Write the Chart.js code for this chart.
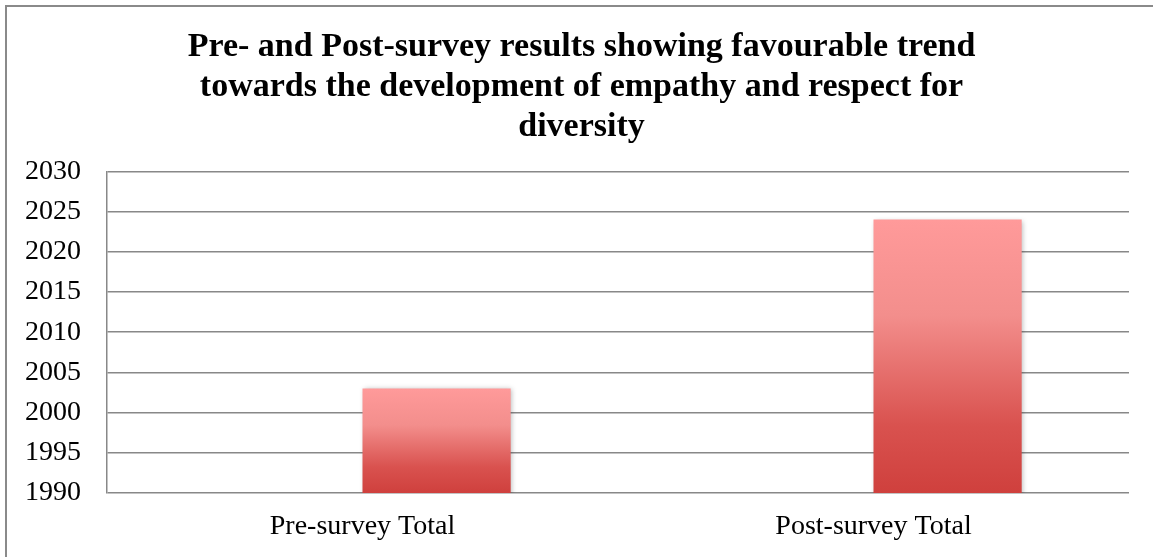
<!DOCTYPE html>
<html lang="en">
<head>
    <meta charset="UTF-8">
    <title>Pre- and Post-survey results</title>
    <script src="https://cdn.jsdelivr.net/npm/chart.js"></script>
    <style>
        html, body {
            margin: 0;
            padding: 0;
            background: #fff;
            overflow: hidden;
        }

        .chart-wrap {
            position: absolute;
            left: 0;
            top: 0;
            width: 1153px;
            height: 557px;
        }

        .frame {
            position: absolute;
            left: 5px;
            top: 5px;
            right: 0;
            bottom: 0;
            border-left: 2px solid #8a8a8a;
            border-top: 2px solid #8a8a8a;
            pointer-events: none;
        }
    </style>
</head>
<body>
    <div class="chart-wrap">
        <canvas id="surveyChart" width="1153" height="557"></canvas>
    </div>
    <div class="frame"></div>

    <script>
        // chart data
        const categories = ['Pre-survey Total', 'Post-survey Total'];
        const blankSeries = [null, null];       // empty first series in the original sheet
        const totals = [2003, 2024];
        const yTicks = [1990, 1995, 2000, 2005, 2010, 2015, 2020, 2025, 2030];

        const titleLines = [
            'Pre- and Post-survey results showing favourable trend',
            'towards the development of empathy and respect for',
            'diversity'
        ];

        const serif = "'Liberation Serif', 'Times New Roman', serif";
        const gridGrey = '#888888';

        // vertical gradient per bar, light pink at the top to red at the base
        function barFill(ctx) {
            const chart = ctx.chart;
            if (!chart.chartArea || ctx.raw == null) return '#e56b69';
            const y = chart.scales.y;
            const top = y.getPixelForValue(ctx.raw);
            const bottom = y.getPixelForValue(y.min);
            const g = chart.ctx.createLinearGradient(0, top, 0, bottom);
            g.addColorStop(0, '#ff9a9a');
            g.addColorStop(0.35, '#f38e8c');
            g.addColorStop(0.75, '#d9524f');
            g.addColorStop(1, '#cf403d');
            return g;
        }

        // soft drop shadow under the bars
        const barShadow = {
            id: 'barShadow',
            beforeDatasetDraw(chart) {
                const c = chart.ctx;
                c.save();
                c.shadowColor = 'rgba(0,0,0,0.28)';
                c.shadowBlur = 5;
                c.shadowOffsetX = 1;
                c.shadowOffsetY = 1;
            },
            afterDatasetDraw(chart) {
                chart.ctx.restore();
            }
        };

        // the title in the original sits centred inside the framed area, a bit right of the canvas centre
        const titleShift = {
            id: 'titleShift',
            afterLayout(chart) {
                const t = chart.titleBlock;
                if (!t) return;
                t.left += 34;
                t.width = t.right - t.left;
            }
        };

        new Chart(document.getElementById('surveyChart'), {
            type: 'bar',
            data: {
                labels: categories,
                datasets: [
                    { label: 'Blank', data: blankSeries, backgroundColor: barFill },
                    { label: 'Total', data: totals, backgroundColor: barFill, borderWidth: 0 }
                ]
            },
            plugins: [barShadow, titleShift],
            options: {
                responsive: false,
                animation: false,
                layout: { padding: { left: 0, right: 24, top: 0, bottom: 0 } },
                datasets: {
                    bar: { categoryPercentage: 0.58, barPercentage: 1.0 }
                },
                plugins: {
                    legend: { display: false },
                    tooltip: { enabled: false },
                    title: {
                        display: true,
                        text: titleLines,
                        color: '#000',
                        font: { family: serif, size: 34, weight: 'bold', lineHeight: 1.18 },
                        padding: { top: 27, bottom: 24 }
                    }
                },
                scales: {
                    x: {
                        grid: { display: false, drawTicks: false },
                        border: { display: false },
                        ticks: {
                            color: '#000',
                            padding: 17,
                            font: { family: serif, size: 28 }
                        },
                        afterFit(scale) { scale.height = 64; }
                    },
                    y: {
                        min: yTicks[0],
                        max: yTicks[yTicks.length - 1],
                        afterBuildTicks(scale) {
                            scale.ticks = yTicks.map(v => ({ value: v }));
                        },
                        grid: { color: gridGrey, lineWidth: 1.5, drawTicks: false },
                        border: { display: true, color: gridGrey, width: 1.5 },
                        ticks: {
                            color: '#000',
                            padding: 26,
                            font: { family: serif, size: 28 },
                            callback: v => String(v)
                        },
                        afterFit(scale) { scale.width = 107; }
                    }
                }
            }
        });
    </script>
</body>
</html>
